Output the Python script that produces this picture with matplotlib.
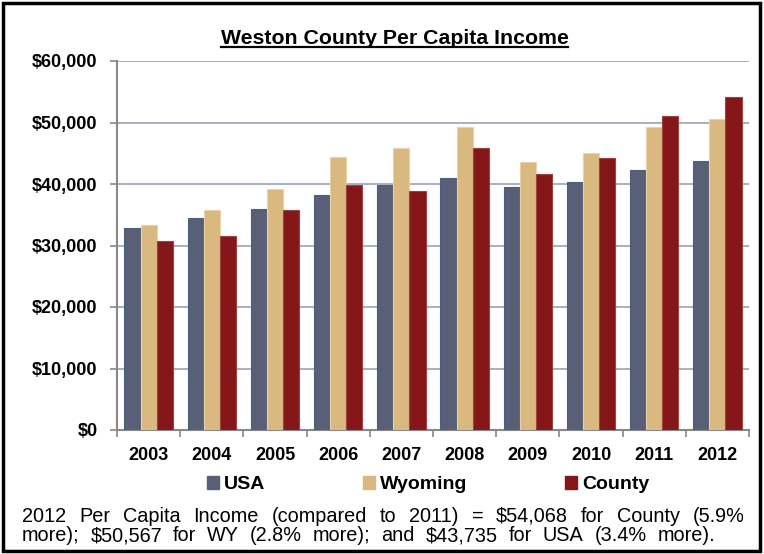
import numpy as np
import matplotlib.pyplot as plt
from matplotlib.patches import Rectangle

#-------------------------------------------------------------------------------
# Data
#-------------------------------------------------------------------------------
years   = ['2003', '2004', '2005', '2006', '2007', '2008', '2009', '2010', '2011', '2012']
usa     = [32800, 34400, 36000, 38200, 39900, 41000, 39500, 40300, 42300, 43735]
wyoming = [33400, 35700, 39200, 44400, 45800, 49200, 43600, 45100, 49190, 50567]
county  = [30700, 31500, 35700, 39900, 38800, 45900, 41600, 44300, 51056, 54068]

series_names  = ['USA', 'Wyoming', 'County']
series_colors = ['#585F77', '#D9B97F', '#851719']
series_edges  = ['#4A6080', '#EAD3A6', '#A04040']

title_txt  = 'Weston County Per Capita Income'
note_lines = ['2012 Per Capita Income (compared to 2011) = $54,068 for County (5.9%',
              'more); $50,567 for WY (2.8% more); and $43,735 for USA (3.4% more).']

#-------------------------------------------------------------------------------
# Settings
#-------------------------------------------------------------------------------
plt.rcParams['font.family'] = ['Liberation Sans', 'DejaVu Sans']
plt.rcParams['text.parse_math'] = False
W, H = 764, 554

#-------------------------------------------------------------------------------
# Figure
#-------------------------------------------------------------------------------
fig = plt.figure(figsize=(W/100, H/100), dpi=100)
ax = fig.add_axes([117/W, 1-430/H, (749-117)/W, (430-61)/H])

x  = np.arange(len(years))
bw = 0.255
for i, (vals, c, ec) in enumerate(zip([usa, wyoming, county], series_colors, series_edges)):
    ax.bar(x + (i-1)*bw, vals, width=bw, color=c, edgecolor=ec, linewidth=0.8, zorder=3)

ax.set_xlim(-0.5, len(years)-0.5)
ax.set_ylim(0, 60000)
yt = np.arange(0, 60001, 10000)
ax.set_yticks(yt)
ax.set_yticklabels([f'${v:,.0f}' for v in yt], fontsize=13, fontweight='bold')
for v in yt[1:]:
    ax.axhline(v, color='#A0AABB', linewidth=1.3, zorder=1)

ax.set_xticks(x)
ax.set_xticklabels(years, fontsize=13, fontweight='bold')
ax.tick_params(axis='x', length=0, pad=12)
ax.tick_params(axis='y', length=5, width=1.2, color='#888888', pad=9)
ax.set_xticks(np.arange(-0.5, len(years)), minor=True)
ax.tick_params(axis='x', which='minor', length=5, width=1.2, color='#888888')

for s in ['top', 'right']:
    ax.spines[s].set_visible(False)
for s in ['left', 'bottom']:
    ax.spines[s].set_color('#888888')
    ax.spines[s].set_linewidth(1.5)

# title with underline
fig.text(394.5/W, 1-44/H, title_txt, ha='center', va='baseline', fontsize=15.3,
         fontweight='bold')
fig.add_artist(plt.Line2D([221/W, 568/W], [1-46.5/H]*2, color='black', linewidth=1.6))

# legend
handles = [Rectangle((0, 0), 1, 1, color=c) for c in series_colors]
fig.legend(handles, series_names, loc='center', bbox_to_anchor=(428/W, 1-484.5/H),
           ncol=3, frameon=False, handlelength=0.62, handleheight=0.62,
           handletextpad=0.24, columnspacing=5.05, borderpad=0,
           prop={'size': 14, 'weight': 'bold'})

# footnote, spread word by word to fill the box width
renderer = fig.canvas.get_renderer()
note_spans = [(22, 745, 522), (22, 715, 541)]
for line, (x0, x1, yb) in zip(note_lines, note_spans):
    words = line.split(' ')
    txts  = [fig.text(0, 1-yb/H, w, ha='left', va='baseline', fontsize=14.3) for w in words]
    widths = [t.get_window_extent(renderer).width for t in txts]
    gap = (x1 - x0 - sum(widths)) / (len(words) - 1)
    xpos = x0
    for t, w in zip(txts, widths):
        t.set_x(xpos/W)
        xpos += w + gap

# outer border
fig.add_artist(Rectangle((3/W, 3/H), (760-3)/W, (551-3)/H, transform=fig.transFigure,
                         fill=False, edgecolor='black', linewidth=2.5))

fig.savefig('out.png', dpi=100)
